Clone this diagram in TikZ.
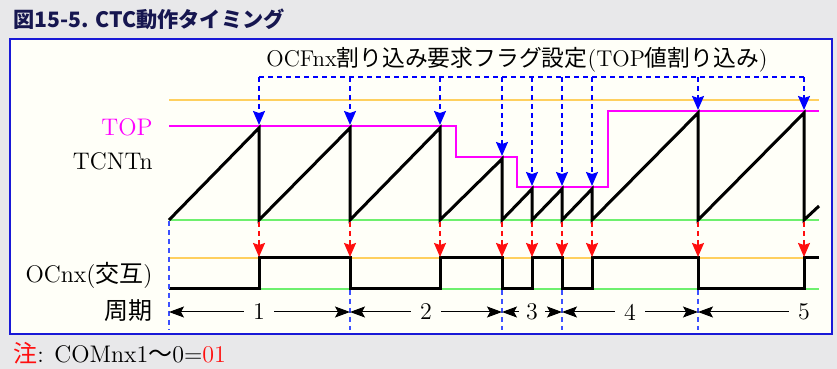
\documentclass[tikz,border=0pt]{standalone}
\usepackage{xcolor}
\usepackage{fontspec}
\usepackage{tikz}
\usetikzlibrary{arrows.meta}
\newfontfamily\cjk{Noto Sans CJK JP}
\definecolor{bggray}{RGB}{232,232,234}
\definecolor{paper}{RGB}{255,255,248}
\definecolor{frameblue}{RGB}{25,25,215}
\definecolor{titlenavy}{RGB}{22,22,80}
\definecolor{topmagenta}{RGB}{255,0,255}
\definecolor{maxorange}{RGB}{255,208,95}
\definecolor{bottomgreen}{RGB}{110,240,110}
\definecolor{flagblue}{RGB}{0,0,255}
\definecolor{markblue}{RGB}{60,80,255}
\definecolor{pinred}{RGB}{255,15,15}

\begin{document}
\begin{tikzpicture}[x=0.5pt, y=-0.5pt,
  wave/.style={line width=1.5pt},
  guide/.style={line width=0.9pt},
  flag/.style={flagblue, line width=0.8pt, dash pattern=on 2.5pt off 2pt},
  pin/.style={pinred, line width=0.8pt, dash pattern=on 2.5pt off 2pt, -{Stealth[length=7pt,width=6pt,inset=1pt]}},
  marker/.style={markblue, line width=0.6pt, dash pattern=on 2.5pt off 2pt},
  period/.style={line width=0.5pt, -{Stealth[length=7.5pt,width=5.5pt,inset=1.5pt]}},
  label/.style={anchor=base east, font=\fontsize{12}{14}\selectfont, inner sep=0pt}]
% background and frame
\fill[bggray] (0,0) rectangle (837,369);
\draw[frameblue, fill=paper, line width=1pt] (10,39) rectangle (832,334);
\node[anchor=base west, inner sep=0pt, titlenavy, font=\cjk\bfseries\fontsize{10.6}{13}\selectfont] (title) at (13,28) {図15-5. CTC動作タイミング};

% level lines
\draw[line width=1.1pt, maxorange] (169,100) -- (819,100);
\draw[guide, bottomgreen] (169,220) -- (819,220);
\draw[guide, topmagenta] (169,126) -- (456,126) -- (456,157) -- (517,157) -- (517,187) -- (608,187) -- (608,111) -- (819,111);
\draw[line width=0.6pt, maxorange] (169,258) -- (819,258);
\draw[guide, bottomgreen] (169,289) -- (819,289);

% counter
\draw[wave] (169,220) -- (259,128) -- (259,220) -- (350,128) -- (350,220) -- (440,128) -- (440,220)
  -- (502,159) -- (502,220) -- (532,189) -- (532,220) -- (562,189) -- (562,220) -- (592,189) -- (592,220)
  -- (698,113) -- (698,220) -- (804,113) -- (804,220) -- (819,206);

% output
\draw[wave] (169,289) -- (259,289) -- (259,258) -- (350,258) -- (350,289) -- (440,289) -- (440,258)
  -- (502,258) -- (502,289) -- (532,289) -- (532,258) -- (562,258) -- (562,289) -- (592,289) -- (592,258)
  -- (698,258) -- (698,289) -- (804,289) -- (804,258) -- (819,258);

% flag arrows
\node[anchor=base west, inner sep=0pt, font=\fontsize{11.4}{13}\selectfont] (flagtext) at (266,67) {OCFnx{\cjk 割り込み要求フラグ設定}(TOP{\cjk 値割り込み})};
\draw[flag] (259,77) -- (804,77);
\foreach \x/\y in {259/125,350/125,440/125,502/156,532/186,562/186,592/186,698/110,804/110}
  \draw[flag, -{Stealth[length=7pt,width=6pt,inset=1pt]}] (\x,77) -- (\x,\y);
\foreach \x in {259,350,440,502,532,562,592,698,804}
  \draw[pin] (\x,222) -- (\x,257);

% period markers
\draw[marker] (169,221) -- (169,330);
\foreach \x in {350,502,562,698}
  \draw[marker] (\x,290) -- (\x,330);

% signal names
\node[label, topmagenta] (toplabel) at (153,136) {TOP};
\node[label] (tcnt) at (153,170) {TCNTn};
\node[label] (ocnx) at (153,283) {OCnx({\cjk 交互})};
\node[label] (cycle) at (153,320) {\cjk 周期};

% periods
\coordinate (b0) at (169,312);
\coordinate (b1) at (350,312);
\coordinate (b2) at (502,312);
\coordinate (b3) at (562,312);
\coordinate (b4) at (698,312);
\node[font=\fontsize{12}{14}\selectfont, inner sep=4.5pt] (p1) at (259,312) {1};
\node[font=\fontsize{12}{14}\selectfont, inner sep=4.5pt] (p2) at (426,312) {2};
\node[font=\fontsize{12}{14}\selectfont, inner sep=3.5pt] (p3) at (532,312) {3};
\node[font=\fontsize{12}{14}\selectfont, inner sep=4.5pt] (p4) at (630,312) {4};
\node[font=\fontsize{12}{14}\selectfont, inner sep=4.5pt] (p5) at (804,312) {5};
\draw[period] (p1) -- (b0);
\draw[period] (p1) -- (b1);
\draw[period] (p2) -- (b1);
\draw[period] (p2) -- (b2);
\draw[period] (p3) -- (b2);
\draw[period] (p3) -- (b3);
\draw[period] (p4) -- (b3);
\draw[period] (p4) -- (b4);
\draw[period] (p5) -- (b4);

% note
\node[anchor=base west, inner sep=0pt, font=\fontsize{12}{14}\selectfont] (note) at (13,363) {{\cjk\color{pinred}注}: COM{nx}1{\cjk ～}0={\color{pinred}01}};
\end{tikzpicture}
\end{document}
